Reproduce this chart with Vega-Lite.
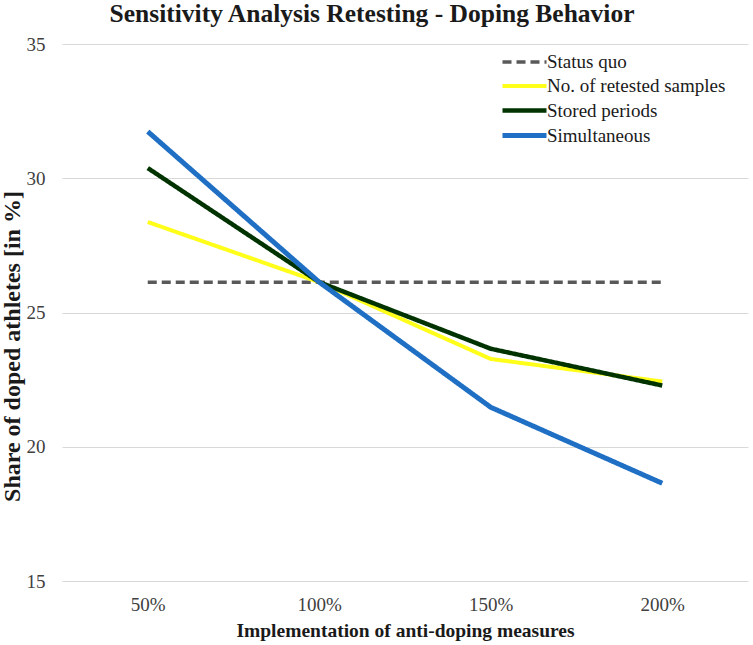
{
  "$schema": "https://vega.github.io/schema/vega-lite/v6.json",
  "autosize": "none",
  "width": 686,
  "height": 537,
  "padding": {"left": 62, "top": 44, "right": 5, "bottom": 64},
  "background": "white",
  "title": {
    "text": "Sensitivity Analysis Retesting - Doping Behavior",
    "font": "Liberation Serif",
    "fontSize": 25.5,
    "fontWeight": "bold",
    "color": "#1a1a1a",
    "anchor": "middle",
    "baseline": "alphabetic",
    "offset": -12,
    "dx": -33
  },
  "config": {
    "view": {"stroke": null},
    "font": "Liberation Serif"
  },
  "data": {
    "values": [
      {"series": "Status quo", "level": "50%", "value": 26.13},
      {"series": "Status quo", "level": "100%", "value": 26.13},
      {"series": "Status quo", "level": "150%", "value": 26.13},
      {"series": "Status quo", "level": "200%", "value": 26.13},
      {"series": "No. of retested samples", "level": "50%", "value": 28.37},
      {"series": "No. of retested samples", "level": "100%", "value": 26.13},
      {"series": "No. of retested samples", "level": "150%", "value": 23.27},
      {"series": "No. of retested samples", "level": "200%", "value": 22.43},
      {"series": "Stored periods", "level": "50%", "value": 30.38},
      {"series": "Stored periods", "level": "100%", "value": 26.13},
      {"series": "Stored periods", "level": "150%", "value": 23.65},
      {"series": "Stored periods", "level": "200%", "value": 22.28},
      {"series": "Simultaneous", "level": "50%", "value": 31.74},
      {"series": "Simultaneous", "level": "100%", "value": 26.13},
      {"series": "Simultaneous", "level": "150%", "value": 21.47},
      {"series": "Simultaneous", "level": "200%", "value": 18.64}
    ]
  },
  "mark": {"type": "line", "strokeCap": "butt"},
  "encoding": {
    "x": {
      "field": "level",
      "type": "nominal",
      "sort": ["50%", "100%", "150%", "200%"],
      "scale": {"type": "point", "padding": 0.5},
      "axis": {
        "title": "Implementation of anti-doping measures",
        "titleFont": "Liberation Serif",
        "titleFontSize": 19.5,
        "titleFontWeight": "bold",
        "titleColor": "#1a1a1a",
        "titleBaseline": "alphabetic",
        "titleY": 55,
        "labelAngle": 0,
        "labelFont": "Liberation Serif",
        "labelFontSize": 19,
        "labelColor": "#404040",
        "labelBaseline": "alphabetic",
        "labelPadding": 29,
        "ticks": false,
        "tickSize": 0,
        "domain": false,
        "grid": false
      }
    },
    "y": {
      "field": "value",
      "type": "quantitative",
      "scale": {"domain": [15, 35], "nice": false, "zero": false},
      "axis": {
        "title": "Share of doped athletes [in %]",
        "titleFont": "Liberation Serif",
        "titleFontSize": 24,
        "titleFontWeight": "bold",
        "titleColor": "#1a1a1a",
        "titleAngle": -90,
        "titleBaseline": "alphabetic",
        "titleX": -43,
        "titleY": 302,
        "values": [15, 20, 25, 30, 35],
        "labelFont": "Liberation Serif",
        "labelFontSize": 19,
        "labelColor": "#404040",
        "labelPadding": 17,
        "ticks": false,
        "tickSize": 0,
        "domain": false,
        "grid": true,
        "gridColor": "#d9d9d9",
        "gridWidth": 1
      }
    },
    "color": {
      "field": "series",
      "type": "nominal",
      "sort": null,
      "scale": {
        "domain": ["Status quo", "No. of retested samples", "Stored periods", "Simultaneous"],
        "range": ["#595959", "#ffff1a", "#003300", "#1f6fc4"]
      },
      "legend": {
        "title": null,
        "orient": "none",
        "legendX": 449,
        "legendY": 5,
        "padding": 0,
        "symbolType": "M-2,0H2",
        "symbolSize": 484,
        "symbolFillColor": "transparent",
        "labelFont": "Liberation Serif",
        "labelFontSize": 19,
        "labelColor": "#1a1a1a",
        "labelOffset": 9,
        "labelLimit": 300,
        "rowPadding": 1
      }
    },
    "strokeDash": {
      "field": "series",
      "type": "nominal",
      "sort": null,
      "scale": {
        "domain": ["Status quo", "No. of retested samples", "Stored periods", "Simultaneous"],
        "range": [[9, 5], [1, 0], [1, 0], [1, 0]]
      },
      "legend": {"title": null}
    },
    "strokeWidth": {
      "field": "series",
      "type": "nominal",
      "sort": null,
      "scale": {
        "domain": ["Status quo", "No. of retested samples", "Stored periods", "Simultaneous"],
        "range": [3.5, 5, 3.5, 3]
      },
      "legend": {"title": null}
    }
  }
}
